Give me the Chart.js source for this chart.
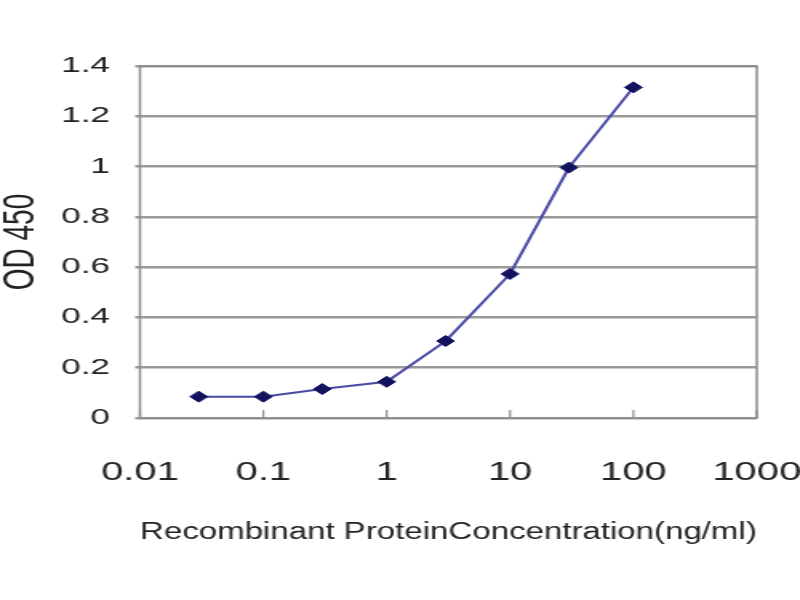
<!DOCTYPE html>
<html>
<head>
<meta charset="utf-8">
<script src="https://cdn.jsdelivr.net/npm/chart.js@4.4.1/dist/chart.umd.min.js"></script>
<style>
html,body{margin:0;padding:0;background:#fff;overflow:hidden;}
#wrap{width:500px;height:600px;transform:scaleX(1.6);transform-origin:0 0;}
</style>
</head>
<body>
<div id="wrap"><canvas id="c" width="500" height="600"></canvas></div>
<script>
const concentrations = [0.03, 0.1, 0.3, 1, 3, 10, 30, 100];
const od450 = [0.085, 0.085, 0.115, 0.144, 0.306, 0.573, 0.996, 1.315];
const xTickValues = [0.01, 0.1, 1, 10, 100, 1000];
const xTickLabels = ['0.01', '0.1', '1', '10', '100', '1000'];
const yTickLabels = ['0', '0.2', '0.4', '0.6', '0.8', '1', '1.2', '1.4'];

const points = concentrations.map((x, i) => ({x: x, y: od450[i]}));

const frame = {
  id: 'frame',
  beforeDatasetsDraw(chart) {
    const a = chart.chartArea, ctx = chart.ctx, xs = chart.scales.x;
    ctx.save();
    ctx.strokeStyle = '#8c8c8c';
    ctx.lineWidth = 1.5;
    ctx.strokeRect(a.left, a.top, a.right - a.left, a.bottom - a.top);
    ctx.lineWidth = 1.2;
    ctx.beginPath();
    xTickValues.forEach(v => {
      const px = xs.getPixelForValue(v);
      ctx.moveTo(px, a.bottom);
      ctx.lineTo(px, a.bottom - 8);
    });
    ctx.stroke();
    ctx.restore();
  }
};

new Chart(document.getElementById('c'), {
  type: 'scatter',
  data: {
    datasets: [{
      data: points,
      showLine: true,
      borderColor: '#4a4aa6',
      borderWidth: 2,
      pointStyle: 'rectRot',
      pointRadius: 5.5,
      pointBackgroundColor: '#12125e',
      pointBorderColor: '#12125e',
      pointBorderWidth: 1,
      tension: 0
    }]
  },
  options: {
    responsive: false,
    animation: false,
    devicePixelRatio: 1,
    layout: {padding: {left: 0, right: 27, top: 66, bottom: 54}},
    plugins: {legend: {display: false}, tooltip: {enabled: false}},
    scales: {
      x: {
        type: 'logarithmic',
        min: 0.01,
        max: 1000,
        afterBuildTicks(scale) {
          scale.ticks = xTickValues.map(v => ({value: v}));
        },
        afterFit(scale) {
          scale.height = 128;
          scale.paddingLeft = 0;
          scale.paddingRight = 0;
        },
        ticks: {
          autoSkip: false,
          maxRotation: 0,
          padding: 32,
          color: '#222',
          font: {family: 'Liberation Sans', size: 25},
          callback(v) {
            const i = xTickValues.indexOf(v);
            return i >= 0 ? xTickLabels[i] : '';
          }
        },
        grid: {display: false},
        border: {display: false},
        title: {
          display: true,
          text: 'Recombinant ProteinConcentration(ng/ml)',
          color: '#222',
          font: {family: 'Liberation Sans', size: 23},
          padding: {top: 0, bottom: 0}
        }
      },
      y: {
        min: 0,
        max: 1.4,
        afterFit(scale) {
          scale.width = 87.5;
          scale.paddingTop = 0;
          scale.paddingBottom = 0;
        },
        ticks: {
          stepSize: 0.2,
          padding: 15.75,
          color: '#222',
          font: {family: 'Liberation Sans', size: 22},
          callback(v) {
            const i = Math.round(v / 0.2);
            return yTickLabels[i];
          }
        },
        grid: {color: '#9a9a9a', lineWidth: 2.5, tickLength: 3},
        border: {display: false},
        title: {
          display: true,
          text: 'OD 450',
          color: '#222',
          font: {family: 'Liberation Sans', size: 28},
          padding: {top: -4, bottom: 0}
        }
      }
    }
  },
  plugins: [frame]
});
</script>
</body>
</html>
